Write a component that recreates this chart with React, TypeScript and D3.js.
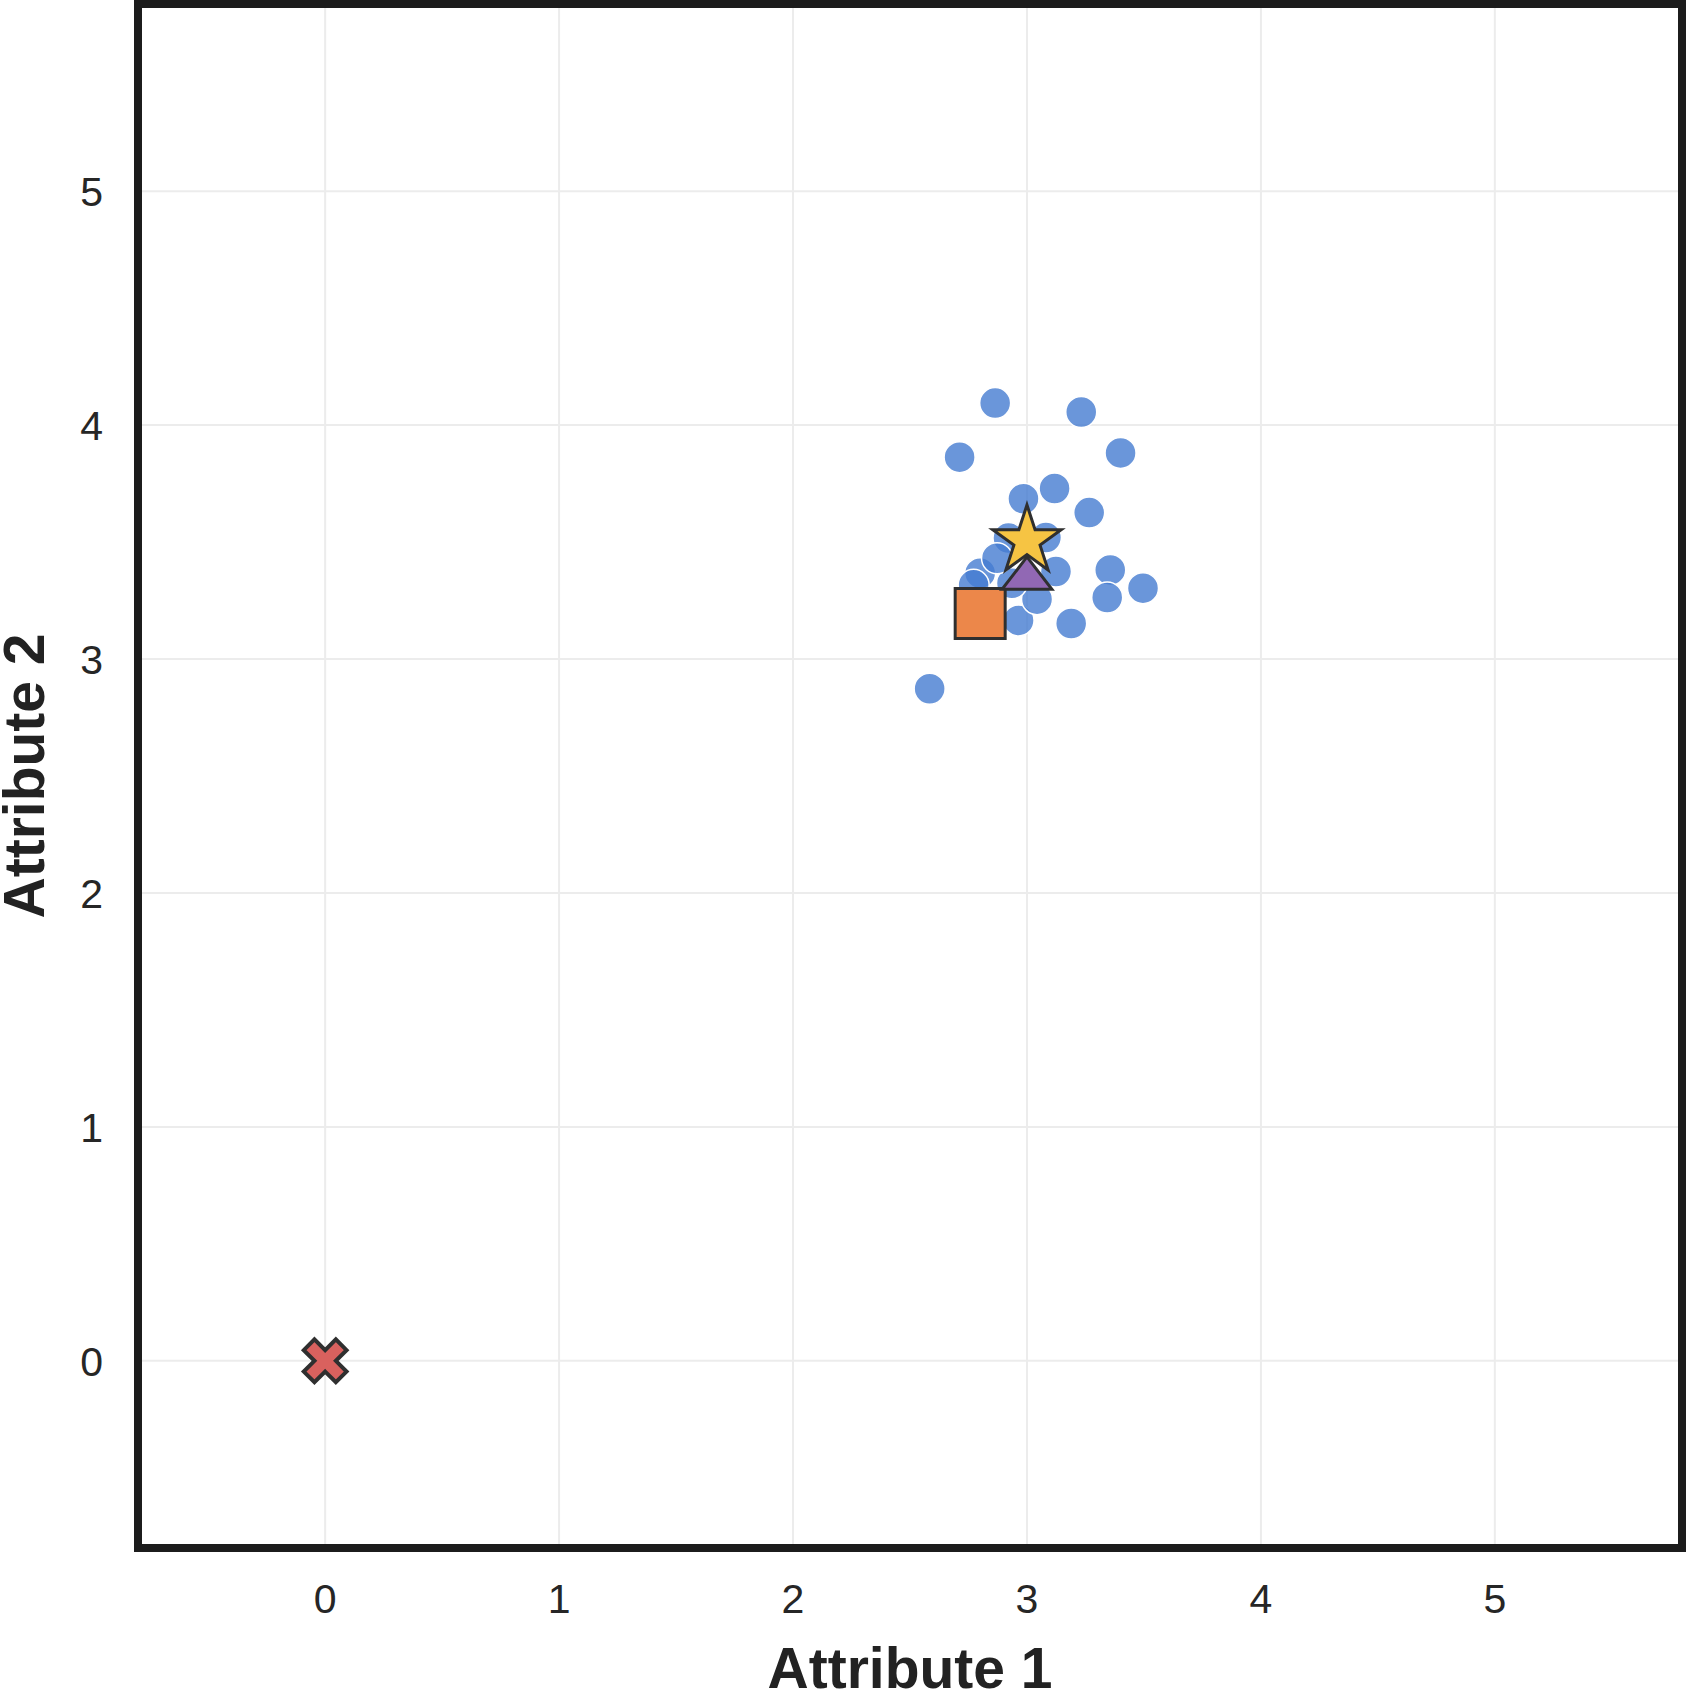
import React, { useEffect, useRef } from 'react';
import * as d3 from 'd3';

// cluster samples
const sampleX = [2.864, 3.232, 2.712, 3.4, 3.118, 2.985, 3.266, 2.921, 3.081, 3.356, 3.496, 3.343, 3.189, 2.964, 3.043, 3.124, 2.936, 2.8, 2.772, 2.872, 2.584];
const sampleY = [4.094, 4.056, 3.863, 3.881, 3.729, 3.685, 3.626, 3.517, 3.519, 3.381, 3.303, 3.263, 3.152, 3.165, 3.256, 3.374, 3.324, 3.367, 3.317, 3.431, 2.873];

// reference points drawn with special symbols
const originPoint = [0, 0];
const squarePoint = [2.8, 3.195];
const trianglePoint = [3.0, 3.344];
const starPoint = [3.0, 3.505];

const tickValues = [0, 1, 2, 3, 4, 5];
const xDomain = [-0.8, 5.8];
const yDomain = [-0.8, 5.8];
const xTitle = 'Attribute 1';
const yTitle = 'Attribute 2';

const W = 1686;
const H = 1689;
const plot = { left: 138, top: 4, right: 1682, bottom: 1548 };
const FONT = '"Liberation Sans", Arial, Helvetica, sans-serif';

// marker outlines, same proportions as plotly's symbols
const squarePath = (r: number) => `M${r},${r}H${-r}V${-r}H${r}Z`;
const trianglePath = (r: number) => {
  const rt = (r * 2) / Math.sqrt(3);
  return `M${-rt},${r / 2}H${rt}L0,${-r}Z`;
};
const starPath = (r: number) => {
  const rs = r * 1.4;
  const x1 = rs * 0.225, x2 = rs * 0.951, x3 = rs * 0.363, x4 = rs * 0.588;
  const y1 = -rs, y2 = rs * -0.309, y3 = rs * 0.118, y4 = rs * 0.809, y5 = rs * 0.382;
  return `M${x1},${y2}H${x2}L${x3},${y3}L${x4},${y4}L0,${y5}L${-x4},${y4}L${-x3},${y3}L${-x2},${y2}H${-x1}L0,${y1}Z`;
};
const crossPath = (rx: number) => {
  const ne = `l${rx},${rx}`, se = `l${rx},${-rx}`, sw = `l${-rx},${-rx}`, nw = `l${-rx},${rx}`;
  return `M0,${rx}` + ne + se + sw + se + sw + nw + sw + nw + ne + nw + ne + 'Z';
};

const App = () => {
  const svgRef = useRef(null);

  useEffect(() => {
    document.body.style.margin = '0';
    const svg = d3.select(svgRef.current);
    svg.selectAll('*').remove();

    const x = d3.scaleLinear().domain(xDomain).range([plot.left, plot.right]);
    const y = d3.scaleLinear().domain(yDomain).range([plot.bottom, plot.top]);

    svg.append('rect').attr('width', W).attr('height', H).attr('fill', '#ffffff');

    // grid
    const grid = svg.append('g').attr('stroke', '#ececec').attr('stroke-width', 2);
    tickValues.forEach(t => {
      grid.append('line').attr('x1', x(t)).attr('x2', x(t)).attr('y1', plot.top).attr('y2', plot.bottom);
      grid.append('line').attr('y1', y(t)).attr('y2', y(t)).attr('x1', plot.left).attr('x2', plot.right);
    });

    // tick labels
    const ticks = svg.append('g').attr('font-family', FONT).attr('font-size', 41).attr('fill', '#262626');
    tickValues.forEach(t => {
      ticks.append('text').attr('x', x(t)).attr('y', 1613).attr('text-anchor', 'middle').text(t);
      ticks.append('text').attr('x', 103).attr('y', y(t) + 15).attr('text-anchor', 'end').text(t);
    });

    // axis titles
    svg.append('text')
      .attr('x', (plot.left + plot.right) / 2)
      .attr('y', 1688)
      .attr('text-anchor', 'middle')
      .attr('font-family', FONT)
      .attr('font-weight', 'bold')
      .attr('font-size', 57)
      .attr('fill', '#222')
      .text(xTitle);

    svg.append('text')
      .attr('transform', `translate(44,${(plot.top + plot.bottom) / 2}) rotate(-90)`)
      .attr('text-anchor', 'middle')
      .attr('font-family', FONT)
      .attr('font-weight', 'bold')
      .attr('font-size', 57)
      .attr('fill', '#222')
      .text(yTitle);

    // sample points
    const samples = sampleX.map((v, i) => ({ x: v, y: sampleY[i] }));
    svg.append('g')
      .selectAll('circle')
      .data(samples)
      .join('circle')
      .attr('cx', d => x(d.x))
      .attr('cy', d => y(d.y))
      .attr('r', 15.5)
      .attr('fill', '#457cd1')
      .attr('fill-opacity', 0.8)
      .attr('stroke', '#ffffff')
      .attr('stroke-width', 1.5);

    const marker = (p: number[], d: string, fill: string, sw: number) =>
      svg.append('path')
        .attr('transform', `translate(${x(p[0])},${y(p[1])})`)
        .attr('d', d)
        .attr('fill', fill)
        .attr('stroke', '#2f2f2f')
        .attr('stroke-width', sw)
        .attr('stroke-linejoin', 'miter');

    marker(originPoint, crossPath(10.7), '#d9615e', 4);
    marker(squarePoint, squarePath(25), '#ec874a', 3);
    marker(trianglePoint, trianglePath(21.6), '#9168b4', 3);
    marker(starPoint, starPath(25.7), '#f6c443', 3);

    // frame
    svg.append('rect')
      .attr('x', plot.left)
      .attr('y', plot.top)
      .attr('width', plot.right - plot.left)
      .attr('height', plot.bottom - plot.top)
      .attr('fill', 'none')
      .attr('stroke', '#1c1c1c')
      .attr('stroke-width', 8);
  }, []);

  return (
    <div style={{ position: 'absolute', left: 0, top: 0 }}>
      <svg ref={svgRef} width={W} height={H} style={{ display: 'block' }} />
    </div>
  );
};

export default App;
